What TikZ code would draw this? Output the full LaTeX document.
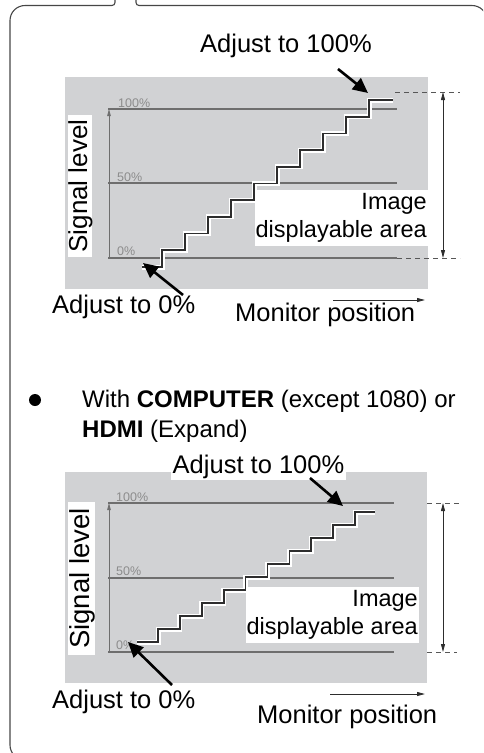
\documentclass[tikz,border=0pt]{standalone}
\usepackage{fontspec}
\setmainfont{Liberation Sans}
\usetikzlibrary{arrows.meta,positioning,calc}
\definecolor{PanelGray}{RGB}{209,210,212}
\definecolor{LevelGray}{RGB}{110,110,110}
\definecolor{PctGray}{RGB}{140,140,140}
\definecolor{FrameGray}{RGB}{70,70,70}
\definecolor{StairDark}{RGB}{45,45,45}
\tikzset{
  panelframe/.style={draw=FrameGray,line width=1.1pt},
  panel/.style={fill=PanelGray},
  levelline/.style={draw=LevelGray,line width=1.2pt},
  dashline/.style={draw=StairDark!80,dash pattern=on 5pt off 4pt,line width=0.9pt},
  pct/.style={font=\fontsize{12.5}{13}\selectfont,text=PctGray,inner sep=0pt,anchor=base west},
  axisline/.style={-{Triangle[length=7pt,width=3.5pt]},draw=LevelGray,line width=0.8pt},
  dimline/.style={{Triangle[length=8pt,width=4pt]}-{Triangle[length=8pt,width=4pt]},draw=StairDark,line width=0.8pt},
  stairs/.style={draw=StairDark,line width=1.7pt,preaction={draw=white,line width=5pt}},
  bigarrow/.style={-{Triangle[length=15pt,width=14pt]},draw=black,line width=2.6pt},
  posarrow/.style={-{Triangle[length=8pt,width=4pt]},draw=StairDark,line width=0.9pt},
  biglabel/.style={font=\fontsize{25.5}{30}\selectfont,inner sep=0pt,anchor=base west},
  areabox/.style={fill=white,align=right,inner xsep=1pt,inner ysep=3pt,anchor=north east,font=\fontsize{23.5}{28.5}\selectfont},
  sigbox/.style={fill=white,inner sep=0pt,rotate=90,text height=19pt,text depth=5pt,font=\fontsize{26}{30}\selectfont},
  bullettext/.style={font=\fontsize{24}{30}\selectfont,align=left,anchor=north west,inner sep=0pt}
}
\begin{document}
\begin{tikzpicture}[x=1pt,y=-1pt]
\useasboundingbox (0,0) rectangle (483,753);
\clip (0,0) rectangle (483,753);
% outer panel
\draw[panelframe] (115,0) [rounded corners=3pt] -- (115,5.5) -- (60,5.5) [rounded corners=15pt] -- (10,5.5) -- (10,760) -- (487,760) -- (487,5.5) -- (200,5.5) [rounded corners=3pt] -- (136,5.5) -- (136,0);

% upper chart
\fill[panel] (65,77) rectangle (428,289);
\draw[levelline] (108,109) -- (397,109) (108,183) -- (397,183) (108,258) -- (397,258);
\draw[dashline] (395,92) -- (460,92) (397,258) -- (460,258);
\node[pct] (pctA100) at (118,107) {100\%};
\node[pct] (pctA50) at (117,181) {50\%};
\node[pct] (pctA0) at (117,255) {0\%};
\coordinate (axA0) at (109,258);
\coordinate (axA1) at (109,109);
\draw[axisline] (axA0) -- (axA1);
\coordinate (dimA0) at (443,258);
\coordinate (dimA1) at (443,92);
\draw[dimline] (dimA0) -- (dimA1);
\draw[stairs] (142,267) -- ++(20,0) \foreach \k in {1,...,9}{ -- ++(0,-16.7) -- ++(23,0)} -- ++(0,-16.7) -- ++(24,0);
\node[areabox] (areaA) at (428,190) {Image\\displayable area};
\node[sigbox,minimum width=142pt] (sigA) at (80,186) {Signal level};
\node[biglabel] (topA) at (200,52) {Adjust to 100\%};
\coordinate (topAtail) at (338,69);
\coordinate (topAtip) at (368,93);
\draw[bigarrow] (topAtail) -- (topAtip);
\node[biglabel] (botA) at (52,313) {Adjust to 0\%};
\coordinate (botAtail) at (183,295);
\coordinate (botAtip) at (143,263);
\draw[bigarrow] (botAtail) -- (botAtip);
\node[biglabel] (monA) at (235,321) {Monitor position};
\coordinate (monA0) at (333,300);
\coordinate (monA1) at (425,300);
\draw[posarrow] (monA0) -- (monA1);

% bullet
\node[circle,fill=black,minimum size=12pt,inner sep=0pt] (dot) at (35,400) {};
\node[bullettext] (bulletTxt) at (82,389.5) {With \textbf{COMPUTER} (except 1080) or\\\textbf{HDMI} (Expand)};

% lower chart
\fill[panel] (65,472) rectangle (427,683);
\draw[levelline] (108,503) -- (394,503) (108,578) -- (394,578) (108,652) -- (394,652);
\draw[dashline] (427,503) -- (460,503) (427,652) -- (457,652);
\node[pct] (pctB100) at (116,501) {100\%};
\node[pct] (pctB50) at (116,575) {50\%};
\node[pct] (pctB0) at (116,649) {0\%};
\coordinate (axB0) at (109,652);
\coordinate (axB1) at (109,503);
\draw[axisline] (axB0) -- (axB1);
\coordinate (dimB0) at (443,652);
\coordinate (dimB1) at (443,503);
\draw[dimline] (dimB0) -- (dimB1);
\draw[stairs] (137,642) -- ++(21,0) \foreach \k in {1,...,9}{ -- ++(0,-13) -- ++(21.9,0)} -- ++(0,-13) -- ++(20,0);
\node[areabox] (areaB) at (419,587) {Image\\displayable area};
\node[sigbox,minimum width=153pt,text height=21pt,text depth=6pt,font=\fontsize{27.5}{30}\selectfont] (sigB) at (81.5,578.5) {Signal level};
\node[biglabel,fill=white,inner sep=1.5pt,anchor=base] (topB) at (258.5,473) {Adjust to 100\%};
\coordinate (topBtail) at (310,478);
\coordinate (topBtip) at (343,506);
\draw[bigarrow] (topBtail) -- (topBtip);
\node[biglabel] (botB) at (52,708) {Adjust to 0\%};
\coordinate (botBtail) at (172,685);
\coordinate (botBtip) at (128,642);
\draw[bigarrow] (botBtail) -- (botBtip);
\node[biglabel] (monB) at (257,723) {Monitor position};
\coordinate (monB0) at (330,694);
\coordinate (monB1) at (425,694);
\draw[posarrow] (monB0) -- (monB1);
\end{tikzpicture}
\end{document}
